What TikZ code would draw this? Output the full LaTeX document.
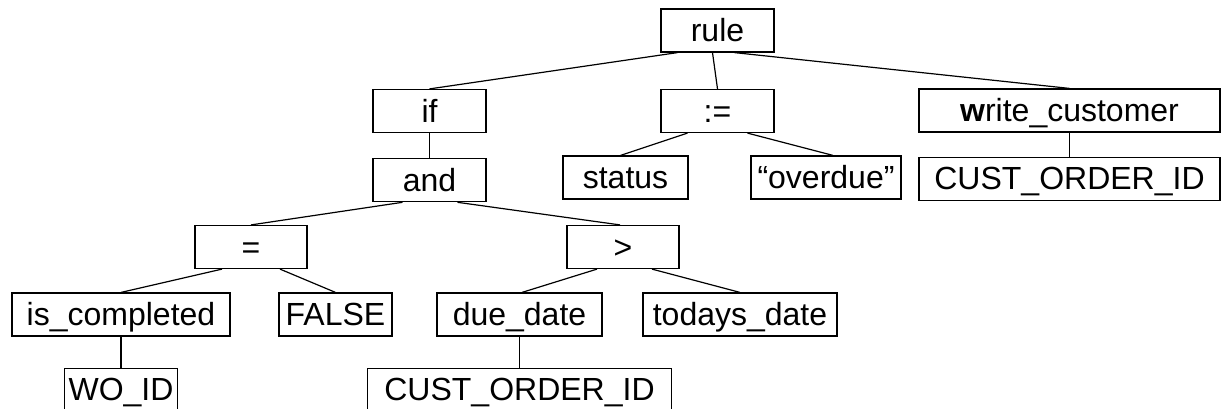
\documentclass[tikz,border=0pt]{standalone}
\usepackage{fontspec}
\setmainfont{Liberation Sans}
\usepackage{tikz}
\usetikzlibrary{positioning}

\begin{document}
\begin{tikzpicture}[
    x=1pt, y=-1pt,
    tnode/.style={rectangle, draw=black, line width=1.2pt, inner sep=0pt, minimum width=113pt, minimum height=43pt, text height=22.5pt, text depth=0pt},
    every node/.style={font=\fontsize{32}{38}\selectfont},
    edge/.style={line width=1.2pt},
    node distance=25pt % default gap between rows
]
\useasboundingbox (0,0) rectangle (1222,408);

% Top levels
\node[tnode] (rule) at (717.5,30.5) {rule};
\node[tnode] (if) at (429.5,111) {if};
\node[tnode] (assign) at (717.5,111) {:=};
\node[tnode, minimum width=301pt] (write) at (1069.5,110.5) {\textbf{w}rite\_customer};

\node[tnode] (and) [below=of if] {and};
\node[tnode, minimum width=125pt] (status) at (625.5,177.5) {status};
\node[tnode, minimum width=150pt] (overdue) at (826,177.5) {“overdue”};
\node[tnode, minimum width=301pt] (custid) [below=24pt of write] {CUST\_ORDER\_ID};

% Comparison levels
\node[tnode, minimum width=112pt] (eq) at (251,247) {=};
\node[tnode, minimum width=112pt] (gt) at (623,247) {>};
\node[tnode, minimum width=218pt] (iscompl) at (121,314.5) {is\_completed};
\node[tnode] (false) at (335.5,314.5) {FALSE};
\node[tnode, minimum width=165pt] (duedate) at (519.5,314.5) {due\_date};
\node[tnode, minimum width=194pt] (todays) at (740,314.5) {todays\_date};
\node[tnode] (woid) [below=31pt of iscompl] {WO\_ID};
\node[tnode, minimum width=304pt] (custid2) [below=31pt of duedate] {CUST\_ORDER\_ID};

% Edges
\draw[edge] ([xshift=-40pt] rule.south) -- (if.north);
\draw[edge] ([xshift=-5pt] rule.south) -- (assign.north);
\draw[edge] ([xshift=17pt] rule.south) -- (write.north);
\draw[edge] (if) -- (and);
\draw[edge] ([xshift=-30pt] assign.south) -- ([xshift=-5pt] status.north);
\draw[edge] ([xshift=30pt] assign.south) -- ([xshift=7pt] overdue.north);
\draw[edge] (write) -- (custid);
\draw[edge] ([xshift=-27pt] and.south) -- (eq.north);
\draw[edge] ([xshift=28pt] and.south) -- ([xshift=-3pt] gt.north);
\draw[edge] ([xshift=-29pt] eq.south) -- (iscompl.north);
\draw[edge] ([xshift=29pt] eq.south) -- (false.north);
\draw[edge] ([xshift=-26pt] gt.south) -- ([xshift=2.5pt] duedate.north);
\draw[edge] ([xshift=29pt] gt.south) -- (todays.north);
\draw[edge] (iscompl) -- (woid);
\draw[edge] (duedate) -- (custid2);

\end{tikzpicture}
\end{document}
